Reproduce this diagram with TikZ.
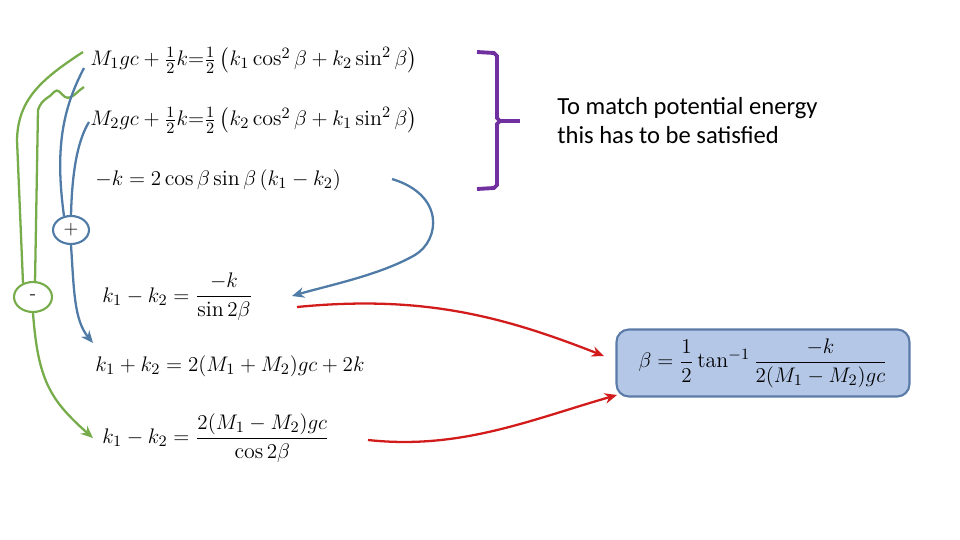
\documentclass[tikz,border=0pt]{standalone}
\usepackage{fontspec}
\usepackage{amsmath}
\newfontfamily\carl{Carlito}
\usetikzlibrary{arrows.meta,shapes.geometric}
\definecolor{gr}{HTML}{77AC4B}
\definecolor{bl}{HTML}{4F7BA6}
\definecolor{pu}{HTML}{7030A0}
\definecolor{rd}{HTML}{D21C1C}
\definecolor{bx}{HTML}{B4C7E7}
\definecolor{bxd}{HTML}{5B7BA8}
\begin{document}
\begin{tikzpicture}[x=0.02cm,y=-0.02cm,
  eq/.style={anchor=west,inner sep=0pt,font=\fontsize{12.5}{14}\selectfont},
  gline/.style={gr,line width=1.3pt},
  bline/.style={bl,line width=1.3pt},
  rline/.style={rd,line width=1.3pt},
  tip/.style={-{Stealth[length=7pt,width=6pt]}},
  opc/.style={ellipse,line width=1.2pt,fill=white,inner sep=0pt,font=\fontsize{11}{12}\selectfont}]
\useasboundingbox (0,0) rectangle (960,540);
\node[eq] (e1) at (90,60) {$M_1gc+\frac12k{=}\frac12\left(k_1\cos^2\beta+k_2\sin^2\beta\right)$};
\node[eq] (e2) at (90,120) {$M_2gc+\frac12k{=}\frac12\left(k_2\cos^2\beta+k_1\sin^2\beta\right)$};
\node[eq] (e3) at (95,180) {$-k=2\cos\beta\sin\beta\,(k_1-k_2)$};
\node[eq] (e4) at (102,297) {$k_1-k_2=\dfrac{-k}{\sin2\beta}$};
\node[eq] (e5) at (95,366) {$k_1+k_2=2(M_1+M_2)gc+2k$};
\node[eq] (e6) at (102,438) {$k_1-k_2=\dfrac{2(M_1-M_2)gc}{\cos2\beta}$};
\node[eq,anchor=center,draw=bxd,fill=bx,line width=1.2pt,rounded corners=7pt,minimum width=5.86cm,minimum height=1.34cm] (res) at (763,363) {$\beta=\dfrac12\tan^{-1}\dfrac{-k}{2(M_1-M_2)gc}$};
\node[anchor=north west,align=left,font=\carl\fontsize{14}{16.5}\selectfont,inner sep=0pt] (txt) at (557,97) {To match potential energy\\this has to be satisfied};
\draw[pu,line width=2.2pt] (477,52) -- (494,53) -- (497,56) -- (497,118) -- (500,121) -- (497,124) -- (497,185) -- (494,188) -- (477,189);
\draw[pu,line width=2.2pt] (500,121) -- (520,121);
\node[opc,draw=bl,minimum width=0.72cm,minimum height=0.56cm] (plus) at (71,230) {+};
\node[opc,draw=gr,minimum width=0.76cm,minimum height=0.6cm] (minus) at (33,297) {-};
% green
\draw[gline] (83,52) .. controls (40,80) and (18,100) .. (17,140) -- (23,283);
\draw[gline] (84,87) .. controls (75,93) and (72,100) .. (65,97) .. controls (60,93) and (58,88) .. (54,92) .. controls (50,98) and (42,98) .. (38,110) -- (35,283);
\draw[gline,tip] (minus.south) .. controls (38,380) and (50,400) .. (93,438);
% blue
\draw[bline] (84,68) .. controls (62,110) and (55,150) .. (64,216);
\draw[bline] (89,122) .. controls (78,140) and (72,170) .. (71,216);
\draw[bline,tip] (plus.south) .. controls (74,290) and (74,320) .. (93,343);
\draw[bline,tip] (392,179) .. controls (445,195) and (440,240) .. (415,255) .. controls (380,275) and (330,285) .. (292,296);
% red
\draw[rline,tip] (297,307) .. controls (420,295) and (500,315) .. (604,356);
\draw[rline,tip] (368,440) .. controls (460,450) and (530,420) .. (617,395);
\end{tikzpicture}
\end{document}
